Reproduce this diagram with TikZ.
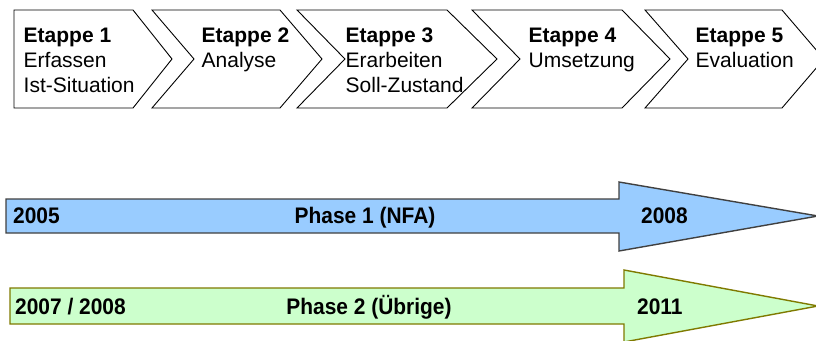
\documentclass[tikz,border=0pt]{standalone}
\usepackage{fontspec}
\setmainfont{Liberation Sans}
\newfontfamily\narrowbold[FakeStretch=0.93]{Liberation Sans Bold}

\definecolor{phaseblue}{HTML}{99CCFF}
\definecolor{phaseblueline}{HTML}{404040}
\definecolor{phasegreen}{HTML}{CCFFCC}
\definecolor{phasegreenline}{HTML}{7F7A00}

\begin{document}
\begin{tikzpicture}[x=1pt,y=-1pt,
  stagebox/.style={draw=black,line width=0.9pt,fill=white,line join=miter},
  stagetext/.style={anchor=north west,inner sep=0pt,align=left,
    font=\fontsize{21}{25}\selectfont},
  phasebody/.style={line width=1.4pt,line join=miter},
  phasetext/.style={inner sep=0pt,font=\narrowbold\fontsize{22.5}{26}\selectfont}]
\useasboundingbox (0,0) rectangle (816,340);
\clip (0,0) rectangle (816,340);

% process chevrons
\draw[stagebox] (14,10) -- (133,10) -- (172,59) -- (133,108) -- (14,108) -- cycle;
\draw[stagebox] (152,10) -- (280,10) -- (322,59) -- (280,108) -- (152,108) -- (194,59) -- cycle;
\draw[stagebox] (297,10) -- (447,10) -- (497,59) -- (447,108) -- (297,108) -- (345,59) -- cycle;
\draw[stagebox] (472,10) -- (622,10) -- (670,59) -- (622,108) -- (472,108) -- (520,59) -- cycle;
\draw[stagebox] (645,10) -- (782,10) -- (824,59) -- (782,108) -- (645,108) -- (688,59) -- cycle;

\node[stagetext] (s1) at (23.5,28) {\textbf{Etappe 1}\\Erfassen\\Ist-Situation};
\node[stagetext] (s2) at (201.5,28) {\textbf{Etappe 2}\\Analyse};
\node[stagetext] (s3) at (345.5,28) {\textbf{Etappe 3}\\Erarbeiten\\Soll-Zustand};
\node[stagetext] (s4) at (528.5,28) {\textbf{Etappe 4}\\Umsetzung};
\node[stagetext] (s5) at (695.5,28) {\textbf{Etappe 5}\\Evaluation};

% phase arrows
\draw[phasebody,draw=phaseblueline,fill=phaseblue]
  (6,199) -- (619,199) -- (619,182) -- (818,216) -- (619,251) -- (619,233) -- (6,233) -- cycle;
\draw[phasebody,draw=phasegreenline,fill=phasegreen]
  (10,288) -- (624,288) -- (624,270) -- (818,306) -- (624,342) -- (624,324) -- (10,324) -- cycle;

\node[phasetext,anchor=base west] (p1start) at (13,223) {2005};
\node[phasetext,anchor=base] (p1name) at (365,223) {Phase 1 (NFA)};
\node[phasetext,anchor=base west] (p1end) at (641,223) {2008};

\node[phasetext,anchor=base west] (p2start) at (15,314) {2007 / 2008};
\node[phasetext,anchor=base] (p2name) at (369,314) {Phase 2 (Übrige)};
\node[phasetext,anchor=base west] (p2end) at (637,314) {2011};
\end{tikzpicture}
\end{document}
